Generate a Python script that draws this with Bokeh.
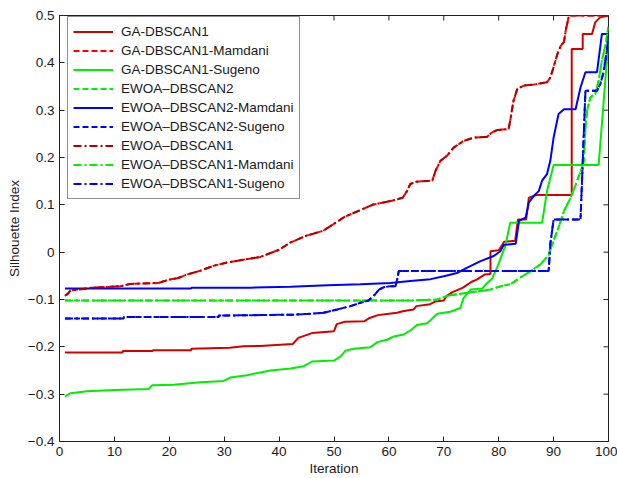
import math
from bokeh.plotting import figure
from bokeh.models import FixedTicker, Legend, LegendItem, Range1d
from bokeh.embed import file_html
from bokeh.resources import INLINE

# ---------------- data ----------------
x_ticks = [0, 10, 20, 30, 40, 50, 60, 70, 80, 90, 100]
y_ticks = [-0.4, -0.3, -0.2, -0.1, 0, 0.1, 0.2, 0.3, 0.4, 0.5]

ga1_x = [1, 11.5, 11.5, 17, 17, 24, 24, 31, 33.5, 36.5, 42.5, 43.5, 46, 50, 50.5, 52, 55.5, 56.5, 58, 60,
         61.5, 62.5, 64.5, 65, 67.5, 68.5, 70, 70.5, 71.5, 73.5, 75, 76, 77.5, 78.5, 78.5, 80, 80.5, 81, 83, 83.5,
         85, 85.5, 87, 93.3, 93.3, 95.3, 95.3, 97, 97.6, 98.5, 100]
ga1_y = [-0.212, -0.212, -0.209, -0.209, -0.207, -0.207, -0.204, -0.202, -0.199, -0.198,
         -0.194, -0.181, -0.171, -0.167, -0.152, -0.147, -0.146, -0.139, -0.133, -0.130,
         -0.128, -0.125, -0.121, -0.114, -0.110, -0.104, -0.102, -0.093, -0.085, -0.075,
         -0.063, -0.058, -0.047, -0.046, 0.002, 0.004, 0.013, 0.022, 0.024, 0.069,
         0.069, 0.115, 0.121, 0.121, 0.429, 0.429, 0.461, 0.461, 0.486, 0.496, 0.5]

ga1m_x = [1, 1.5, 2, 6, 11, 13, 18, 20, 21.5, 23.3, 25.7, 28, 30.5, 34, 36.6, 40, 42, 45, 48, 50,
          52, 55, 57, 59, 61, 62.5, 63.3, 63.9, 65, 67.9, 68.5, 69.4, 70.6, 71.8, 73.6, 75.5, 77.9, 78.8, 79.7, 81.8,
          82.1, 82.7, 83.4, 84.6, 86.4, 88.8, 89.4, 90, 90.7, 91.3, 91.9, 92.2, 92.8, 100]
ga1m_y = [-0.092, -0.088, -0.081, -0.075, -0.072, -0.067, -0.065, -0.058, -0.055, -0.047,
          -0.039, -0.029, -0.022, -0.015, -0.010, 0.005, 0.02, 0.035, 0.045, 0.06,
          0.075, 0.09, 0.1, 0.105, 0.11, 0.115, 0.129, 0.144, 0.149, 0.151,
          0.172, 0.193, 0.204, 0.221, 0.235, 0.242, 0.244, 0.253, 0.258, 0.260,
          0.278, 0.320, 0.345, 0.352, 0.354, 0.359, 0.369, 0.391, 0.419, 0.436,
          0.444, 0.468, 0.5, 0.5]

ga1s_x = [1, 2, 5, 10, 16.3, 16.9, 20.8, 25.7, 29.9, 31.1, 34.2, 36.6, 38.4, 42.1, 44.5, 46, 50, 51.2, 52.1, 53.6,
          56.6, 57.9, 59.7, 60.9, 62.7, 64.2, 65.1, 67, 67.9, 68.8, 71.2, 73, 73.6, 74.9, 77, 77.9, 78.8, 79.7, 80.6, 81.2,
          82.1, 87.9, 88.8, 90, 98.2, 99, 100]
ga1s_y = [-0.305, -0.298, -0.294, -0.291, -0.289, -0.281, -0.280, -0.275, -0.272, -0.265,
          -0.260, -0.254, -0.250, -0.246, -0.241, -0.231, -0.229, -0.220, -0.208, -0.204,
          -0.201, -0.190, -0.185, -0.178, -0.174, -0.163, -0.154, -0.150, -0.140, -0.130,
          -0.126, -0.118, -0.097, -0.079, -0.077, -0.065, -0.056, -0.033, -0.005, 0.013,
          0.062, 0.062, 0.129, 0.184, 0.184, 0.30, 0.45]

ew2_x = [1, 64.5, 68.8, 70, 71.2, 74.2, 77.3, 78.5, 80.9, 82.1, 83.9, 85.8, 87.6, 89.1, 90, 90.9, 91.9, 93.1, 94.3, 95.2,
         95.5, 95.8, 96.1, 96.7, 97.6, 98.2, 98.8, 99.5, 100]
ew2_y = [-0.102, -0.102, -0.100, -0.095, -0.091, -0.086, -0.081, -0.079, -0.070, -0.068,
         -0.054, -0.040, -0.026, -0.006, 0.024, 0.052, 0.087, 0.115, 0.151, 0.179,
         0.193, 0.263, 0.299, 0.327, 0.334, 0.362, 0.405, 0.440, 0.479]

ew2m_x = [1, 24, 24, 34.8, 42.1, 48.8, 54.8, 60.3, 63.9, 67.6, 70, 72.4, 74.2, 76.7, 79.1, 80.3, 80.9, 83.1, 83.7, 84.9,
          85.5, 86.4, 87.3, 87.9, 88.8, 89.4, 90, 90.9, 91.9, 94, 94.9, 95.8, 97.9, 98.8, 100]
ew2m_y = [-0.077, -0.077, -0.075, -0.075, -0.073, -0.070, -0.068, -0.065, -0.061, -0.057,
          -0.051, -0.044, -0.033, -0.019, -0.008, 0.002, 0.015, 0.018, 0.066, 0.073,
          0.105, 0.119, 0.129, 0.151, 0.165, 0.193, 0.242, 0.292, 0.302, 0.302,
          0.348, 0.380, 0.380, 0.461, 0.461]

ew2s_x = [1, 11.7, 11.7, 29, 29, 42.7, 45.7, 48.1, 50.6, 53, 54.8, 56.3, 57.2, 58.2, 59.1, 60.3, 61.2, 61.5, 61.8, 66.4,
          68.8, 89.1, 89.4, 90, 94.9, 95.2, 95.8, 97.9, 98.5, 99.1, 99.7, 100]
ew2s_y = [-0.140, -0.140, -0.137, -0.137, -0.134, -0.132, -0.130, -0.128, -0.121, -0.114,
          -0.107, -0.102, -0.093, -0.079, -0.074, -0.072, -0.072, -0.058, -0.040, -0.040,
          -0.040, -0.040, 0.017, 0.069, 0.069, 0.158, 0.341, 0.341, 0.355, 0.380,
          0.426, 0.46]

# EWOA-DBSCAN1 series lie on top of the curves above in the reference
ew1_x, ew1_y = ga1m_x, ga1m_y
ew1m_x, ew1m_y = ew2_x, ew2_y
ew1s_x, ew1s_y = ew2s_x, ew2s_y

names = ["GA-DBSCAN1", "GA-DBSCAN1-Mamdani", "GA-DBSCAN1-Sugeno", "EWOA\u2013DBSCAN2",
         "EWOA\u2013DBSCAN2-Mamdani", "EWOA\u2013DBSCAN2-Sugeno", "EWOA\u2013DBSCAN1",
         "EWOA\u2013DBSCAN1-Mamdani", "EWOA\u2013DBSCAN1-Sugeno"]

# ---------------- figure ----------------
FONT = "Liberation Sans"
INK = "#222222"
p = figure(width=617, height=478, x_range=Range1d(0, 100), y_range=Range1d(-0.4, 0.5),
           output_backend="svg", toolbar_location=None,
           min_border_left=59, min_border_right=9, min_border_top=15, min_border_bottom=37)
p.xgrid.visible = False
p.ygrid.visible = False
p.outline_line_color = INK
p.outline_line_width = 1
p.background_fill_color = "white"
p.border_fill_color = "white"

for ax, ticks in ((p.xaxis[0], x_ticks), (p.yaxis[0], y_ticks)):
    ax.ticker = FixedTicker(ticks=ticks)
    ax.major_tick_in = 5
    ax.major_tick_out = 0
    ax.minor_tick_line_color = None
    ax.axis_line_color = INK
    ax.major_tick_line_color = INK
    ax.major_label_text_font = FONT
    ax.major_label_text_font_size = "13.5px"
    ax.major_label_text_color = "#1a1a1a"
    ax.axis_label_text_font = FONT
    ax.axis_label_text_font_size = "13.5px"
    ax.axis_label_text_font_style = "normal"
    ax.axis_label_text_color = "#1a1a1a"
    ax.major_label_standoff = 5

p.xaxis[0].axis_label = "Iteration"
p.xaxis[0].axis_label_standoff = 2
p.yaxis[0].axis_label = "Silhouette Index"
p.yaxis[0].axis_label_standoff = 3
p.yaxis[0].major_label_overrides = {0: "0"}

# inward tick marks on the top and right edges of the box (MATLAB style)
p.ray(x=x_ticks, y=y_ticks[-1], length=5, length_units="screen", angle=-math.pi / 2,
      line_color=INK, line_width=1)
p.ray(x=x_ticks[-1], y=y_ticks, length=5, length_units="screen", angle=math.pi,
      line_color=INK, line_width=1)

DASH = "6 3"
DASHDOT = "8 3 2 3"
styles = [
    (ga1_x, ga1_y, "#d40000", "solid"),
    (ga1m_x, ga1m_y, "#ff0000", DASH),
    (ga1s_x, ga1s_y, "#00ee00", "solid"),
    (ew2_x, ew2_y, "#00ee00", DASH),
    (ew2m_x, ew2m_y, "#0000ff", "solid"),
    (ew2s_x, ew2s_y, "#0000ff", DASH),
    (ew1_x, ew1_y, "#b00000", DASHDOT),
    (ew1m_x, ew1m_y, "#00ee00", DASHDOT),
    (ew1s_x, ew1s_y, "#0000ff", DASHDOT),
]

items = []
for name, (xs, ys, col, dash) in zip(names, styles):
    r = p.line(xs, ys, line_color=col, line_width=2, line_dash=dash)
    items.append(LegendItem(label=name, renderers=[r]))

legend = Legend(items=items, location=(8, 242), border_line_color=INK, border_line_width=1,
                background_fill_color="white", background_fill_alpha=1,
                label_text_font=FONT, label_text_font_size="13.5px", label_text_color="#1a1a1a",
                label_height=19, glyph_height=19, glyph_width=40, label_standoff=8,
                spacing=0, padding=5, margin=0)
p.add_layout(legend, "center")

open("out.html", "w").write(file_html(p, INLINE))
